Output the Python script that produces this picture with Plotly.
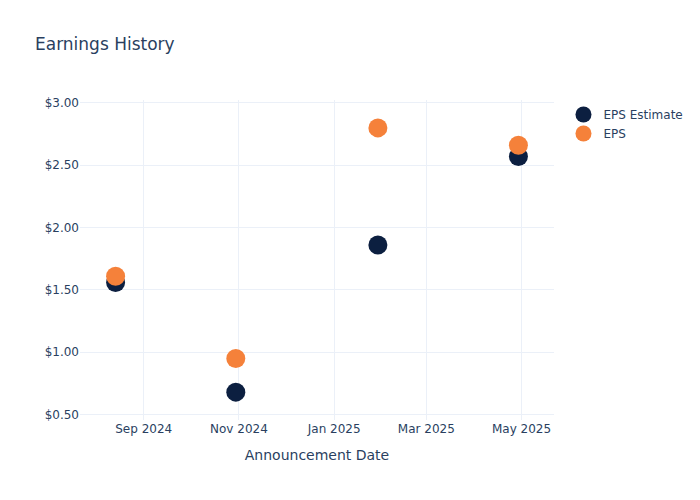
import plotly.graph_objects as go

# announcement dates and earnings per share
dates = ['2024-08-14', '2024-10-30', '2025-01-29', '2025-04-29']
eps_estimate = [1.56, 0.68, 1.86, 2.57]
eps_actual = [1.61, 0.95, 2.80, 2.66]

fig = go.Figure()
fig.add_trace(go.Scatter(x=dates, y=eps_estimate, mode='markers', name='EPS Estimate',
                         marker=dict(color='#0c1f40', size=19)))
fig.add_trace(go.Scatter(x=dates, y=eps_actual, mode='markers', name='EPS',
                         marker=dict(color='#f5813a', size=19)))

fig.update_layout(
    template='plotly_white',
    font=dict(family='DejaVu Sans'),
    title=dict(text='Earnings History'),
    xaxis_title='Announcement Date',
    yaxis=dict(tickprefix='$', tickformat='.2f'),
    width=700, height=500,
)
# drop the page margin so the figure sits at the window's top-left corner
fig.write_html("out.html", config={'displayModeBar': False},
               post_script="document.body.style.margin='0';")
